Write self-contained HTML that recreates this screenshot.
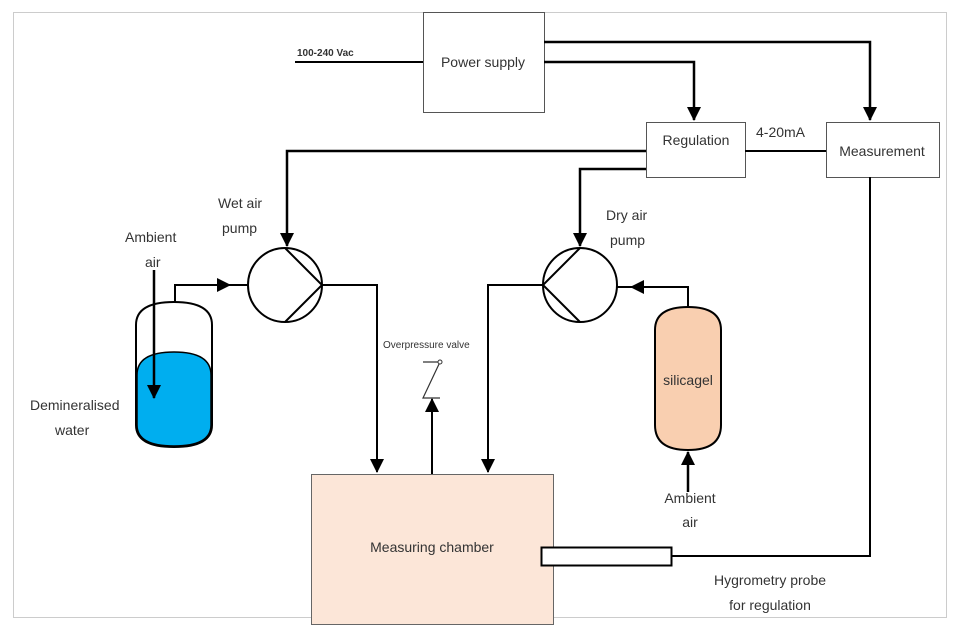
<!DOCTYPE html>
<html><head><style>
body{margin:0;background:#fff}
svg text{font-family:"Liberation Sans",sans-serif;fill:#333}
</style></head><body>
<svg width="959" height="628" viewBox="0 0 959 628" xmlns="http://www.w3.org/2000/svg">
<defs>
<marker id="a" markerWidth="10" markerHeight="10" refX="9" refY="5" orient="auto" markerUnits="userSpaceOnUse"><path d="M0,0 L10,5 L0,10Z" fill="#000"/></marker>
<marker id="b" markerWidth="14" markerHeight="14" refX="13" refY="7" orient="auto" markerUnits="userSpaceOnUse"><path d="M0,0 L14,7 L0,14Z" fill="#000"/></marker>
</defs>
<rect x="13.5" y="12.5" width="933" height="605" fill="none" stroke="#ccc"/>
<!-- power -->
<rect x="423.5" y="12.5" width="121" height="100" fill="#fff" stroke="#555"/>
<text x="483" y="67" font-size="14" text-anchor="middle">Power supply</text>
<line x1="295" y1="62" x2="423" y2="62" stroke="#000" stroke-width="2"/>
<text x="297" y="56" font-size="10" font-weight="bold">100-240 Vac</text>
<polyline points="544,42 870,42 870,120" fill="none" stroke="#000" stroke-width="2.5" marker-end="url(#b)"/>
<polyline points="544,62 694,62 694,120" fill="none" stroke="#000" stroke-width="2.5" marker-end="url(#b)"/>
<rect x="646.5" y="122.5" width="99" height="55" fill="#fff" stroke="#555"/>
<text x="696" y="145" font-size="14" text-anchor="middle">Regulation</text>
<rect x="826.5" y="122.5" width="113" height="55" fill="#fff" stroke="#555"/>
<text x="882" y="156" font-size="14" text-anchor="middle">Measurement</text>
<line x1="745" y1="151" x2="826" y2="151" stroke="#000" stroke-width="2"/>
<text x="756" y="137" font-size="14">4-20mA</text>
<polyline points="646,151 287,151 287,246" fill="none" stroke="#000" stroke-width="2.5" marker-end="url(#b)"/>
<polyline points="646,169 580,169 580,246" fill="none" stroke="#000" stroke-width="2.5" marker-end="url(#b)"/>
<!-- pumps -->
<circle cx="285" cy="285" r="37" fill="#fff" stroke="#000" stroke-width="2"/>
<polyline points="285,248 322,285 285,322" fill="none" stroke="#000" stroke-width="2"/>
<circle cx="580" cy="285" r="37" fill="#fff" stroke="#000" stroke-width="2"/>
<polyline points="580,248 543,285 580,322" fill="none" stroke="#000" stroke-width="2"/>
<text x="218" y="208" font-size="14">Wet air</text><text x="222" y="233" font-size="14">pump</text>
<text x="606" y="220" font-size="14">Dry air</text><text x="610" y="245" font-size="14">pump</text>
<polyline points="322,285 377,285 377,472" fill="none" stroke="#000" stroke-width="2" marker-end="url(#b)"/>
<polyline points="543,285 488,285 488,472" fill="none" stroke="#000" stroke-width="2" marker-end="url(#b)"/>
<!-- wet tank -->
<path d="M136,325 Q136,302 174,302 Q212,302 212,325 L212,425 Q212,447 174,447 Q136,447 136,425Z" fill="#fff" stroke="#000" stroke-width="2"/>
<path d="M137,375 Q137,352 174,352 Q211,352 211,375 L211,425 Q211,446 174,446 Q137,446 137,425Z" fill="#00aeef" stroke="#000" stroke-width="1.5"/>
<polyline points="175,302 175,285 230,285" fill="none" stroke="#000" stroke-width="2" marker-end="url(#b)"/>
<line x1="230" y1="285" x2="248" y2="285" stroke="#000" stroke-width="2"/>
<line x1="154" y1="270" x2="154" y2="398" stroke="#000" stroke-width="2.5" marker-end="url(#b)"/>
<text x="125" y="242" font-size="14">Ambient</text><text x="145" y="267" font-size="14">air</text>
<text x="30" y="410" font-size="14">Demineralised</text><text x="55" y="435" font-size="14">water</text>
<!-- silicagel -->
<path d="M655,330 Q655,307 688,307 Q721,307 721,330 L721,425 Q721,450 688,450 Q655,450 655,425Z" fill="#f9cfb0" stroke="#000" stroke-width="2"/>
<text x="688" y="385" font-size="14" text-anchor="middle">silicagel</text>
<polyline points="688,307 688,287 631,287" fill="none" stroke="#000" stroke-width="2" marker-end="url(#b)"/>
<line x1="631" y1="287" x2="617" y2="287" stroke="#000" stroke-width="2"/>
<line x1="688" y1="492" x2="688" y2="452" stroke="#000" stroke-width="2.5" marker-end="url(#b)"/>
<text x="690" y="503" font-size="14" text-anchor="middle">Ambient</text><text x="690" y="527" font-size="14" text-anchor="middle">air</text>
<!-- valve -->
<text x="383" y="348" font-size="10">Overpressure valve</text>
<polyline points="423,362 440,362 423,398 440,398" fill="none" stroke="#333" stroke-width="1.2"/>
<circle cx="440" cy="362" r="2" fill="#fff" stroke="#333"/>
<line x1="432" y1="474" x2="432" y2="399" stroke="#000" stroke-width="2" marker-end="url(#b)"/>
<!-- chamber -->
<rect x="311.5" y="474.5" width="242" height="150" fill="#fce6d8" stroke="#666"/>
<text x="432" y="552" font-size="14" text-anchor="middle">Measuring chamber</text>
<rect x="541.5" y="547.5" width="130" height="18" fill="#fff" stroke="#000" stroke-width="2"/>
<polyline points="671,556 870,556 870,177" fill="none" stroke="#000" stroke-width="2"/>
<text x="770" y="585" font-size="14" text-anchor="middle">Hygrometry probe</text>
<text x="770" y="610" font-size="14" text-anchor="middle">for regulation</text>
</svg>
</body></html>
